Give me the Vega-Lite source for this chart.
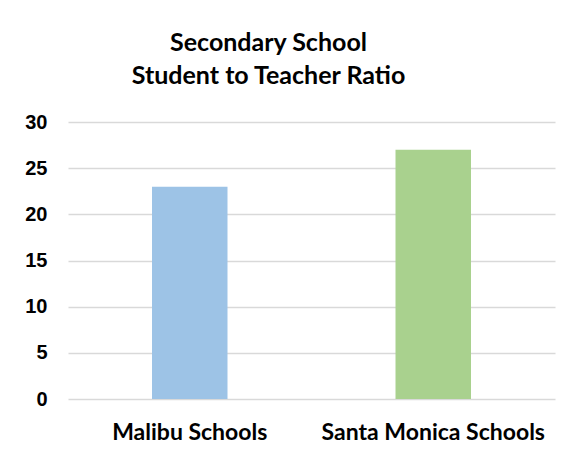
{
  "$schema": "https://vega.github.io/schema/vega-lite/v6.json",
  "width": 487,
  "height": 277,
  "autosize": {"type": "none"},
  "padding": {"left": 68, "top": 122, "right": 12, "bottom": 57},
  "background": "white",
  "title": {
    "text": ["Secondary School", "Student to Teacher Ratio"],
    "font": "Lato",
    "fontSize": 25,
    "fontWeight": "bold",
    "color": "#000000",
    "anchor": "middle",
    "dx": -43,
    "lineHeight": 33,
    "offset": 23
  },
  "data": {
    "values": [
      {"school": "Malibu Schools", "ratio": 23},
      {"school": "Santa Monica Schools", "ratio": 27}
    ]
  },
  "mark": {"type": "bar", "width": {"band": 0.31}},
  "encoding": {
    "x": {
      "field": "school",
      "type": "nominal",
      "sort": null,
      "scale": {"paddingInner": 0, "paddingOuter": 0},
      "axis": {
        "title": null,
        "labelAngle": 0,
        "labelFont": "Lato",
        "labelFontSize": 23,
        "labelFontWeight": "bold",
        "labelColor": "#000000",
        "labelPadding": 22,
        "labelLimit": 0,
        "ticks": false,
        "domain": false
      }
    },
    "y": {
      "field": "ratio",
      "type": "quantitative",
      "scale": {"domain": [0, 30]},
      "axis": {
        "title": null,
        "values": [0, 5, 10, 15, 20, 25, 30],
        "labelFont": "Liberation Sans",
        "labelFontSize": 20,
        "labelFontWeight": "bold",
        "labelColor": "#000000",
        "labelPadding": 21,
        "ticks": false,
        "domain": false,
        "gridColor": "#d9d9d9",
        "gridWidth": 1.5
      }
    },
    "color": {
      "field": "school",
      "type": "nominal",
      "scale": {"domain": ["Malibu Schools", "Santa Monica Schools"], "range": ["#9dc3e6", "#a9d18e"]},
      "legend": null
    }
  },
  "config": {"view": {"stroke": null}}
}
